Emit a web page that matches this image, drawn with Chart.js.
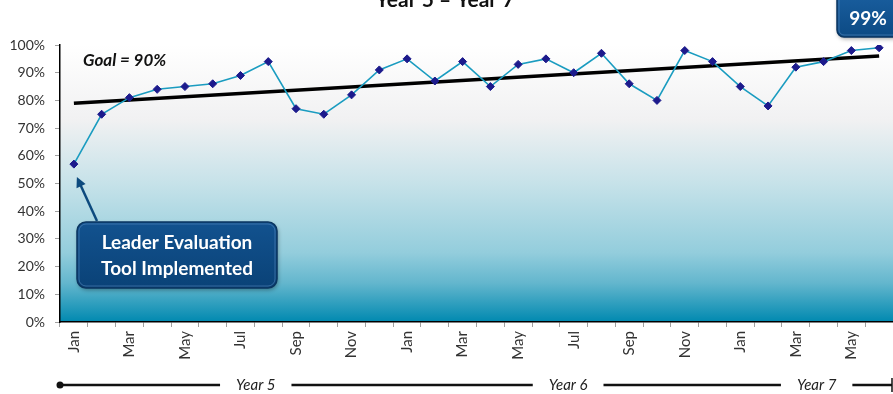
<!DOCTYPE html>
<html>
<head>
<meta charset="utf-8">
<script src="https://cdn.jsdelivr.net/npm/chart.js@4.4.1/dist/chart.umd.min.js"></script>
<style>
  html, body { margin: 0; padding: 0; background: #ffffff; overflow: hidden; }
  #wrap { width: 893px; height: 394px; position: relative; }
</style>
</head>
<body>
<div id="wrap"><canvas id="c" width="893" height="394"></canvas></div>
<script>
// Monthly results, Jan Year 5 through Jun Year 7
const months = [
  'Jan','Feb','Mar','Apr','May','Jun','Jul','Aug','Sep','Oct','Nov','Dec',
  'Jan','Feb','Mar','Apr','May','Jun','Jul','Aug','Sep','Oct','Nov','Dec',
  'Jan','Feb','Mar','Apr','May','Jun'
];
const scores = [
  57, 75, 81, 84, 85, 86, 89, 94, 77, 75, 82, 91,
  95, 87, 94, 85, 93, 95, 90, 97, 86, 80, 98, 94,
  85, 78, 92, 94, 98, 99
];
// Linear trend line end points
const trendStart = 79;
const trendEnd = 96;
const goal = 90;
const yearNames = ['Year 5', 'Year 6', 'Year 7'];
const yTicks = [0, 10, 20, 30, 40, 50, 60, 70, 80, 90, 100];

const trend = months.map((_, i) => i === 0 ? trendStart : (i === months.length - 1 ? trendEnd : null));

const FONT = 'Lato, "Open Sans", sans-serif';

function roundBox(ctx, x, y, w, h, r, top, bottom) {
  ctx.save();
  ctx.shadowColor = 'rgba(0,0,0,0.35)';
  ctx.shadowBlur = 4;
  ctx.shadowOffsetX = 1;
  ctx.shadowOffsetY = 2;
  const g = ctx.createLinearGradient(0, y, 0, y + h);
  g.addColorStop(0, top);
  g.addColorStop(1, bottom);
  ctx.beginPath();
  ctx.roundRect(x, y, w, h, r);
  ctx.fillStyle = g;
  ctx.fill();
  ctx.restore();
  ctx.save();
  ctx.beginPath();
  ctx.roundRect(x, y, w, h, r);
  ctx.strokeStyle = '#0a3560';
  ctx.lineWidth = 1.5;
  ctx.stroke();
  ctx.beginPath();
  ctx.roundRect(x + 2, y + 2, w - 4, h - 4, r - 2);
  ctx.strokeStyle = 'rgba(120,165,215,0.4)';
  ctx.lineWidth = 1;
  ctx.stroke();
  ctx.restore();
}

const plotBackground = {
  id: 'plotBackground',
  beforeDraw(chart) {
    const { ctx, chartArea: a } = chart;
    const g = ctx.createLinearGradient(0, a.top, 0, a.bottom);
    g.addColorStop(0.00, '#ffffff');
    g.addColorStop(0.27, '#f1f1f2');
    g.addColorStop(0.50, '#c6e2e9');
    g.addColorStop(0.75, '#93cddc');
    g.addColorStop(0.86, '#63b6cd');
    g.addColorStop(1.00, '#0089b0');
    ctx.save();
    ctx.fillStyle = g;
    ctx.fillRect(a.left, a.top, a.right - a.left, a.bottom - a.top);
    ctx.restore();
  }
};

const decorations = {
  id: 'decorations',
  afterDraw(chart) {
    const { ctx, chartArea: a, scales } = chart;
    const xs = scales.x, ys = scales.y;
    ctx.save();

    // Title
    ctx.fillStyle = '#111';
    ctx.font = 'bold 21px ' + FONT;
    ctx.textAlign = 'center';
    ctx.textBaseline = 'alphabetic';
    ctx.fillText('Year 5 \u2013 Year 7', 445, 7);

    // Goal text
    ctx.font = 'italic bold 17px ' + FONT;
    ctx.textAlign = 'left';
    ctx.fillStyle = '#111';
    ctx.fillText('Goal = ' + goal + '%', 83, 66);

    // Arrow to the first month
    const tipX = xs.getPixelForValue(0) + 3;
    const tipY = ys.getPixelForValue(scores[0]) + 13;
    const tailX = 97, tailY = 221;
    const ang = Math.atan2(tipY - tailY, tipX - tailX);
    ctx.strokeStyle = '#0d4a7e';
    ctx.fillStyle = '#0d4a7e';
    ctx.lineWidth = 2.5;
    ctx.beginPath();
    ctx.moveTo(tailX, tailY);
    ctx.lineTo(tipX - 7 * Math.cos(ang), tipY - 7 * Math.sin(ang));
    ctx.stroke();
    ctx.beginPath();
    ctx.moveTo(tipX, tipY);
    ctx.lineTo(tipX - 10 * Math.cos(ang) + 5 * Math.sin(ang), tipY - 10 * Math.sin(ang) - 5 * Math.cos(ang));
    ctx.lineTo(tipX - 10 * Math.cos(ang) - 5 * Math.sin(ang), tipY - 10 * Math.sin(ang) + 5 * Math.cos(ang));
    ctx.closePath();
    ctx.fill();

    // Callout box
    roundBox(ctx, 77, 222, 200, 66, 9, '#12528f', '#0a4277');
    ctx.fillStyle = '#ffffff';
    ctx.font = 'bold 19px ' + FONT;
    ctx.textAlign = 'center';
    ctx.textBaseline = 'middle';
    ctx.fillText('Leader Evaluation', 177, 243);
    ctx.fillText('Tool Implemented', 177, 269);

    // Latest value badge
    roundBox(ctx, 837, -8, 64, 45, 7, '#1a5fa0', '#0c4a84');
    ctx.fillStyle = '#ffffff';
    ctx.font = 'bold 19px ' + FONT;
    ctx.fillText(scores[scores.length - 1] + '%', 868, 19);

    // Year timeline under the axis
    const y0 = 385;
    const px = v => a.left + v * (a.right - a.left) / months.length;
    const centers = [px(7.05), px(18.3), px(27.25)];
    ctx.font = 'italic 15px ' + FONT;
    ctx.fillStyle = '#222';
    ctx.strokeStyle = '#111';
    ctx.lineWidth = 2.5;
    const segs = [];
    let start = a.left;
    centers.forEach((c, i) => {
      const w = ctx.measureText(yearNames[i]).width;
      segs.push([start, c - w / 2 - 16]);
      ctx.fillText(yearNames[i], c, y0);
      start = c + w / 2 + 16;
    });
    segs.push([start, a.right - 1]);
    segs.forEach(([s, e]) => {
      ctx.beginPath();
      ctx.moveTo(s, y0);
      ctx.lineTo(e, y0);
      ctx.stroke();
    });
    ctx.beginPath();
    ctx.arc(a.left, y0, 3.5, 0, Math.PI * 2);
    ctx.fillStyle = '#111';
    ctx.fill();
    ctx.lineWidth = 1.5;
    ctx.beginPath();
    ctx.moveTo(a.right - 1, y0 - 7);
    ctx.lineTo(a.right - 1, y0 + 7);
    ctx.stroke();

    ctx.restore();
  }
};

new Chart(document.getElementById('c'), {
  type: 'line',
  data: {
    labels: months,
    datasets: [
      {
        label: 'Score',
        data: scores,
        borderColor: '#1a9cc0',
        borderWidth: 1.6,
        pointStyle: 'rectRot',
        pointRadius: 4,
        pointBackgroundColor: '#1c1a8c',
        pointBorderColor: '#1c1a8c',
        pointBorderWidth: 1,
        tension: 0,
        order: 1
      },
      {
        label: 'Trend',
        data: trend,
        spanGaps: true,
        borderColor: '#000000',
        borderWidth: 3.5,
        pointRadius: 0,
        tension: 0,
        order: 2
      }
    ]
  },
  options: {
    responsive: false,
    animation: false,
    layout: { autoPadding: false, padding: { top: 45, left: 0, right: 0, bottom: 0 } },
    plugins: {
      legend: { display: false },
      tooltip: { enabled: false },
      title: { display: false }
    },
    scales: {
      x: {
        offset: true,
        grid: { display: true, offset: true, drawOnChartArea: false, drawTicks: true, tickLength: 5, color: '#a0a0a0' },
        border: { display: true, color: '#000000', width: 1.5 },
        ticks: {
          autoSkip: false,
          minRotation: 90,
          maxRotation: 90,
          padding: 4,
          color: '#333',
          font: { family: FONT, size: 15 },
          callback: (v, i) => (i % 2 === 0 ? months[i] : '')
        },
        afterFit: s => { s.height = 72; s.paddingLeft = 0; s.paddingRight = 0; }
      },
      y: {
        min: 0,
        max: 100,
        afterBuildTicks: s => { s.ticks = yTicks.map(v => ({ value: v })); },
        grid: { display: true, drawOnChartArea: false, drawTicks: true, tickLength: 5, color: '#a0a0a0' },
        border: { display: true, color: '#000000', width: 1.5 },
        ticks: {
          padding: 10,
          color: '#333',
          font: { family: FONT, size: 14 },
          callback: v => v + '%'
        },
        afterFit: s => { s.width = 60; }
      }
    }
  },
  plugins: [plotBackground, decorations]
});
</script>
</body>
</html>
